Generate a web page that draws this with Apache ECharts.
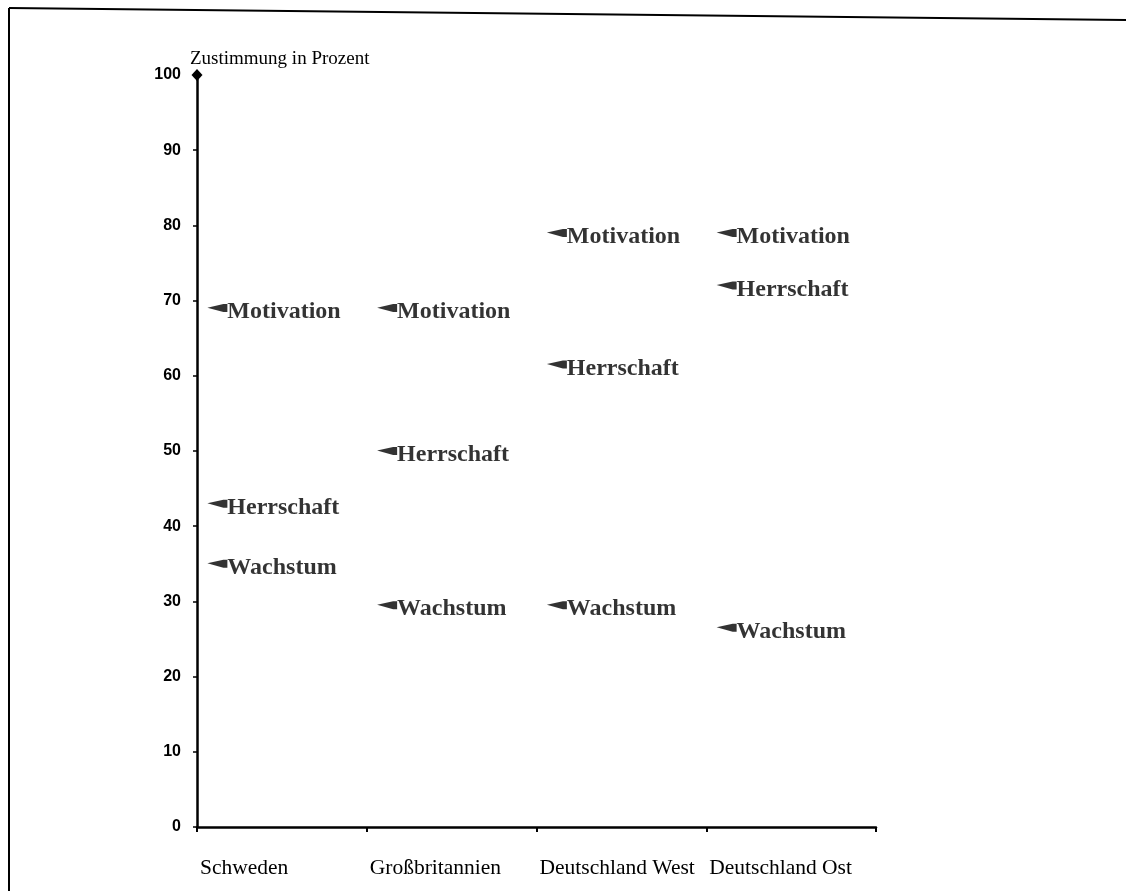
<!DOCTYPE html>
<html>
<head>
<meta charset="utf-8">
<script src="https://cdn.jsdelivr.net/npm/echarts@6/dist/echarts.min.js"></script>
<style>
html,body{margin:0;padding:0;background:#fff;}
#chart{width:1126px;height:891px;}
</style>
</head>
<body>
<div id="chart"></div>
<script>
const categories = ['Schweden', 'Großbritannien', 'Deutschland West', 'Deutschland Ost'];
const seriesNames = ['Motivation', 'Herrschaft', 'Wachstum'];
const motivation = [69, 69, 79, 79];
const herrschaft = [43, 50, 61.5, 72];
const wachstum = [35, 29.5, 29.5, 26.5];
const yAxisTitle = 'Zustimmung in Prozent';

const values = [motivation, herrschaft, wachstum];
const markerOffset = 0.12;

const chart = echarts.init(document.getElementById('chart'));

const series = seriesNames.map((name, s) => ({
  name: name,
  type: 'scatter',
  symbol: 'path://M0,4 L16,0 L20,0 L20,9 L16,9 Z',
  symbolSize: [20, 8],
  symbolKeepAspect: false,
  itemStyle: { color: '#000' },
  label: {
    show: true,
    position: 'right',
    distance: 0,
    offset: [0, 4],
    formatter: name,
    color: '#000',
    fontFamily: 'Liberation Serif',
    fontWeight: 'bold',
    fontSize: 24
  },
  data: values[s].map((v, i) => [i + markerOffset, v])
}));

chart.setOption({
  animation: false,
  backgroundColor: '#fff',
  title: {
    text: yAxisTitle,
    left: 185,
    top: 45,
    textStyle: { fontFamily: 'Liberation Serif', fontWeight: 'normal', fontSize: 19, color: '#000' }
  },
  grid: { left: 197, right: 250, top: 75, bottom: 64, containLabel: false },
  xAxis: {
    type: 'value',
    min: 0,
    max: categories.length,
    interval: 1,
    splitLine: { show: false },
    axisLine: { show: true, onZero: false, lineStyle: { color: '#000', width: 2.5 } },
    axisTick: { show: true, inside: false, length: 5, lineStyle: { color: '#000', width: 2 } },
    axisLabel: {
      formatter: v => categories[v] || '',
      align: 'left',
      margin: 30,
      padding: [0, 0, 0, 3],
      color: '#000',
      fontFamily: 'Liberation Serif',
      fontSize: 21.5
    }
  },
  yAxis: {
    type: 'value',
    min: 0,
    max: 100,
    interval: 10,
    splitLine: { show: false },
    axisLine: { show: true, symbol: ['none', 'diamond'], symbolSize: [11, 12], lineStyle: { color: '#000', width: 2.5 } },
    axisTick: { show: true, length: 4, lineStyle: { color: '#000', width: 1.5 } },
    axisLabel: {
      margin: 16,
      color: '#000',
      fontFamily: 'Liberation Sans',
      fontWeight: 'bold',
      fontSize: 16
    }
  },
  graphic: [
    { type: 'line', shape: { x1: 9, y1: 8, x2: 1126, y2: 20 }, style: { stroke: '#000', lineWidth: 2 }, silent: true },
    { type: 'line', shape: { x1: 9, y1: 8, x2: 9, y2: 891 }, style: { stroke: '#000', lineWidth: 2 }, silent: true }
  ],
  series: series
});
</script>
</body>
</html>
